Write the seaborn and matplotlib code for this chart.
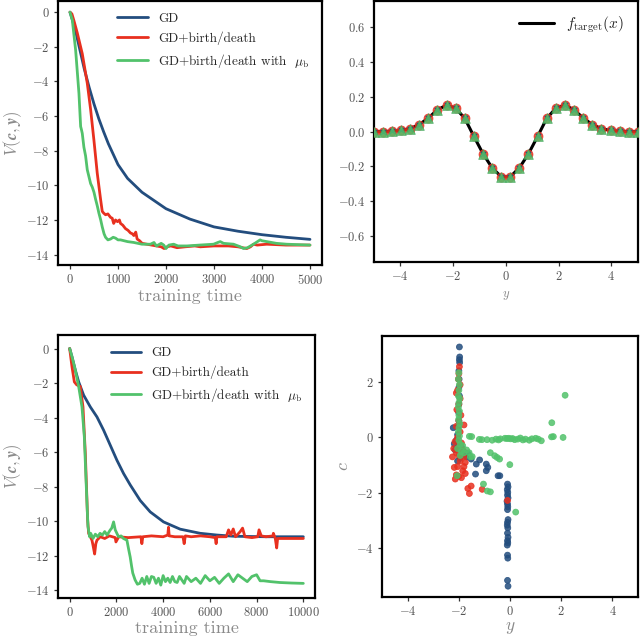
import matplotlib
matplotlib.use("Agg")
import pandas as pd
import seaborn as sns
import matplotlib.pyplot as plt

BLUE = "#234d7e"
RED = "#e8301f"
GREEN = "#52c26b"
TICK_GRAY = "#555555"
LABEL_GRAY = "#8a8a8a"

# ---------------- top-left: training curves, 5000 steps ----------------
gd1_t = [0, 100, 200, 300, 400, 500, 600, 700, 800, 900, 1000, 1200, 1500,
         2000, 2500, 3000, 3500, 4000, 4500, 5000]
gd1_v = [0, -0.9, -2.1, -3.3, -4.35, -5.3, -6.15, -6.9, -7.6, -8.2, -8.8,
         -9.6, -10.4, -11.35, -11.95, -12.4, -12.65, -12.85, -13.0, -13.12]

bd1_t = [0, 40, 83, 152, 256, 360, 429, 499, 568, 637,
         672, 700, 741, 790, 845, 880, 910, 949, 990, 1030,
         1053, 1100, 1156, 1210, 1260, 1300, 1330, 1370, 1399, 1450,
         1503, 1600, 1700, 1800, 1900, 1960, 2022, 2100, 2230, 2400,
         2600, 2715, 3000, 3300, 3500, 3684, 3760, 3823, 3900, 4100,
         4500, 5000]
bd1_v = [0, -0.1, -0.5, -1.2, -2.4, -4.1, -5.6, -7.4, -9.3, -10.8,
         -11.5, -11.6, -11.7, -11.65, -11.85, -11.9, -12.2, -12.0, -12.1, -12.0,
         -12.2, -12.3, -12.5, -12.6, -12.75, -12.8, -12.9, -12.7, -13.1, -13.2,
         -13.35, -13.4, -13.45, -13.5, -13.55, -13.65, -13.55, -13.5, -13.6, -13.55,
         -13.5, -13.55, -13.5, -13.5, -13.55, -13.65, -13.55, -13.4, -13.45, -13.4,
         -13.45, -13.45]

mu1_t = [0, 48, 118, 187, 222, 240, 256, 290, 325, 360,
         395, 430, 464, 500, 533, 570, 602, 640, 672, 710,
         741, 790, 845, 900, 950, 1000, 1053, 1200, 1330, 1500,
         1676, 1750, 1800, 1900, 1953, 2000, 2060, 2160, 2250, 2437,
         2700, 2991, 3080, 3130, 3200, 3407, 3550, 3615, 3700, 3823,
         3961, 4000, 4100, 4300, 4515, 5000]
mu1_v = [0, -0.45, -2.2, -4.7, -6.6, -6.8, -7.0, -7.8, -8.3, -9.1,
         -9.5, -9.9, -10.1, -10.4, -10.8, -11.2, -11.6, -12.0, -12.4, -12.8,
         -13.0, -13.15, -13.1, -13.0, -13.05, -13.15, -13.15, -13.25, -13.3, -13.4,
         -13.4, -13.3, -13.5, -13.35, -13.45, -13.65, -13.45, -13.4, -13.5, -13.5,
         -13.45, -13.4, -13.3, -13.25, -13.35, -13.4, -13.55, -13.65, -13.6, -13.4,
         -13.15, -13.2, -13.25, -13.35, -13.4, -13.45]

# ---------------- bottom-left: training curves, 10000 steps ----------------
gd2_t = [0, 100, 242, 385, 598, 883, 1168, 1453, 1738, 2023, 2308, 2593,
         3020, 3447, 4017, 4729, 5584, 6296, 7009, 8433, 10000]
gd2_v = [0, -0.48, -1.25, -1.93, -2.7, -3.38, -3.96, -4.73, -5.6, -6.47,
         -7.24, -7.9, -8.8, -9.46, -10.04, -10.46, -10.7, -10.8, -10.87,
         -10.9, -10.9]

bd2_t = [0, 100, 200, 300, 456, 570, 670, 769, 812, 883,
         954, 1000, 1068, 1120, 1168, 1310, 1500, 1700, 1950, 1980,
         2100, 2500, 3050, 3090, 3130, 3500, 4000, 4200, 4230, 4260,
         4500, 4850, 4900, 4950, 5200, 5600, 6000, 6230, 6268, 6300,
         6700, 6800, 6900, 7000, 7100, 7300, 7400, 7500, 7800, 8050,
         8105, 8200, 8400, 8700, 8718, 8800, 8860, 8900, 9200, 10000]
bd2_v = [0, -1.06, -1.93, -2.1, -2.2, -3.38, -6.08, -9.94, -10.7, -10.9,
         -11.1, -11.4, -11.9, -11.3, -11.1, -10.9, -11.0, -10.85, -10.95, -11.2,
         -10.9, -10.95, -10.9, -11.3, -10.9, -10.85, -10.9, -10.8, -10.35, -10.85,
         -10.9, -10.9, -11.3, -10.85, -10.9, -10.85, -10.9, -10.95, -11.3, -10.9,
         -10.9, -10.5, -10.8, -10.45, -10.9, -10.6, -10.4, -10.9, -10.95, -10.9,
         -10.5, -10.85, -10.9, -10.85, -10.7, -11.0, -11.55, -11.0, -11.0, -11.0]

mu2_t = [0, 100, 242, 385, 527, 627, 712, 783, 855,
         900, 1000, 1100, 1200, 1300, 1400, 1500, 1600, 1740, 1800,
         1880, 1950, 2090, 2200, 2300, 2450, 2520, 2590, 2650, 2700,
         2800, 2900, 3000, 3100, 3200, 3300, 3400, 3500, 3600, 3700,
         3800, 3900, 4000, 4100, 4200, 4300, 4400, 4500, 4600, 4700,
         4800, 4900, 5000, 5200, 5400, 5600, 5800, 6000, 6200, 6400,
         6600, 6800, 7000, 7200, 7400, 7600, 7800, 8000, 8150, 8300,
         8600, 9000, 9500, 10000]
mu2_v = [0, -0.48, -1.25, -2.2, -3.38, -5.1, -8.0, -10.3, -10.9,
         -10.7, -11.0, -10.75, -10.9, -10.7, -10.8, -10.6, -10.8, -10.5, -10.4,
         -10.04, -10.5, -10.9, -10.85, -11.0, -11.1, -11.6, -12.07, -12.6, -13.0,
         -13.4, -13.65, -13.6, -13.3, -13.65, -13.2, -13.6, -13.2, -13.25, -13.6,
         -13.3, -13.7, -13.15, -13.5, -13.3, -13.55, -13.2, -13.5, -13.55, -13.2,
         -13.4, -13.6, -13.2, -13.5, -13.3, -13.6, -13.15, -13.45, -13.25, -13.6,
         -13.3, -13.05, -13.5, -13.1, -13.3, -13.5, -13.2, -13.1, -13.45, -13.45,
         -13.5, -13.55, -13.58, -13.6]

# ---------------- top-right: target function and learned values ----------------
grid_y = [-5.0, -4.66, -4.31, -3.97, -3.62, -3.28, -2.93, -2.59, -2.24, -1.90,
          -1.55, -1.21, -0.86, -0.52, -0.17, 0.17, 0.52, 0.86, 1.21, 1.55,
          1.90, 2.24, 2.59, 2.93, 3.28, 3.62, 3.97, 4.31, 4.66, 5.0]
f_target = [0.0, 0.0, 0.002, 0.006, 0.017, 0.04, 0.078, 0.125, 0.152, 0.135,
            0.075, -0.027, -0.128, -0.208, -0.26, -0.26, -0.208, -0.128, -0.027, 0.075,
            0.135, 0.152, 0.125, 0.078, 0.04, 0.017, 0.006, 0.002, 0.0, 0.0]

# ---------------- bottom-right: particle positions (y, c) ----------------
gd_y = [-1.98, -1.97, -1.98, -1.97, -2.0, -1.99, -2.0, -1.98, -2.0, -2.01,
        -2.0, -2.02, -2.22, -2.05, -2.1, -2.18, -2.0, -1.9, -2.15, -1.85,
        -1.75, -1.65, -1.52, -1.32, -1.19, -0.93, -0.87, -0.93, -1.35, -0.47,
        -0.4, -1.7, -2.05, -1.95,
        -0.1, -0.08, -0.11, -0.09, -0.1, -0.08, -0.12, -0.1, -0.09, -0.1,
        -0.08, -0.1, -0.11, -0.09, -0.1, -0.08, -0.1, -0.09, -0.11, -0.1,
        -0.09, -0.1, -0.08]
gd_c = [3.26, 2.9, 2.8, 2.7, 2.4, 2.1, 1.8, 1.5, 1.2, 0.9,
        0.6, 0.4, 0.35, 0.1, -0.1, -0.23, -0.3, -0.35, -0.45, -0.5,
        -0.55, -0.59, -0.78, -0.96, -0.81, -0.96, -1.08, -1.2, -1.32, -1.38,
        -1.38, -0.7, -0.85, -0.75,
        -1.68, -1.78, -1.88, -1.98, -2.08, -2.18, -2.3, -2.4, -2.5, -2.6,
        -2.96, -3.06, -3.16, -3.26, -3.45, -3.6, -3.72, -3.8, -3.88, -4.24,
        -4.35, -5.15, -5.36]

bd_y = [-1.98, -2.0, -2.02, -1.95, -2.05, -2.1, -1.95, -2.0, -2.08, -1.92,
        -2.0, -2.1, -1.8, -1.95, -2.05, -2.15, -1.9, -2.0, -2.2, -1.85,
        -2.1, -2.0, -2.25, -1.8, -1.95, -1.75, -2.18, -2.05, -1.85, -1.75,
        -2.14, -2.0, -1.9, -1.52, -1.65, -1.59, -1.09, -0.1, -2.1, -1.8]
bd_c = [2.55, 2.3, 2.1, 1.9, 1.7, 1.6, 1.4, 1.2, 1.0, 0.8,
        0.6, 0.4, 0.45, 0.2, 0.0, -0.15, -0.2, -0.35, -0.4, -0.45,
        -0.55, -0.65, -0.7, -0.7, -0.85, -0.9, -1.08, -1.05, -1.2, -1.3,
        -1.5, -1.4, -1.45, -1.75, -1.84, -2.02, -1.87, -2.27, -1.35, -1.05]

mu_y = [-2.0, -2.02, -1.98, -2.0, -2.02, -1.97, -2.0, -2.02, -1.98, -2.0,
        -2.01, -1.97, -2.0, -2.02, -1.98, -2.0, -1.95, -1.85, -2.05, -1.9,
        -1.8, -1.95, -1.7, -1.6, -1.55, -1.48, -2.07,
        -1.59, -1.5, -1.2, -1.1, -0.9, -0.7, -0.55, -0.45, -0.38, -0.2,
        -0.12, -0.05, 0.02, 0.1, 0.18, 0.3, 0.4, 0.5, 0.6, 0.75,
        0.85, 1.0, 1.1, 1.22, 1.62, 1.69, 2.07,
        -0.77, -0.6, -0.51, -0.41, -0.01, -1.04, -0.89, -0.77, 0.22, 1.63, 2.15]
mu_c = [2.33, 2.1, 1.9, 1.7, 1.5, 1.4, 1.25, 1.1, 0.95, 0.8,
        0.65, 0.5, 0.35, 0.2, 0.05, -0.1, -0.25, -0.3, -0.4, -0.5,
        -0.55, -0.65, -0.45, -0.55, -0.7, -0.69, -1.38,
        0.04, 0.03, -0.07, -0.08, -0.08, -0.1, -0.06, -0.09, -0.05, -0.03,
        -0.04, -0.03, -0.05, -0.04, -0.08, -0.06, -0.02, -0.09, -0.06, -0.1,
        -0.05, -0.03, -0.06, -0.12, 0.02, 0.03, 0.0,
        -0.55, -0.66, -0.72, -0.78, -0.98, -1.68, -1.93, -1.96, -2.69, 0.53, 1.52]

labels = ["GD", "GD+birth/death", r"GD+birth/death with  $\mu_{\rm b}$"]

sns.set_theme(style="white")
plt.rcParams["font.family"] = ["cmr10", "DejaVu Serif"]
plt.rcParams["mathtext.fontset"] = "cm"
plt.rcParams["axes.formatter.use_mathtext"] = True
plt.rcParams["axes.edgecolor"] = "black"
plt.rcParams["axes.linewidth"] = 1.6
plt.rcParams["xtick.labelsize"] = 9
plt.rcParams["ytick.labelsize"] = 9
plt.rcParams["xtick.major.size"] = 3
plt.rcParams["ytick.major.size"] = 3
plt.rcParams["xtick.major.width"] = 0.9
plt.rcParams["ytick.major.width"] = 0.9
plt.rcParams["xtick.color"] = "#333333"
plt.rcParams["ytick.color"] = "#333333"
plt.rcParams["xtick.bottom"] = True
plt.rcParams["ytick.left"] = True
plt.rcParams["xtick.major.pad"] = 3
plt.rcParams["ytick.major.pad"] = 3
plt.rcParams["xtick.labelcolor"] = TICK_GRAY
plt.rcParams["ytick.labelcolor"] = TICK_GRAY
plt.rcParams["axes.labelcolor"] = LABEL_GRAY

fig = plt.figure(figsize=(6.4, 6.41), dpi=100)
ax_tl = fig.add_axes([0.0906, 0.5866, 0.4125, 0.412])
ax_tr = fig.add_axes([0.584, 0.5913, 0.4125, 0.407])
ax_bl = fig.add_axes([0.0906, 0.067, 0.4016, 0.410])
ax_br = fig.add_axes([0.597, 0.0686, 0.400, 0.407])


def training_panel(ax, gd, bd, mu, xlim, ylim, xticks, ylab_x):
    sns.lineplot(x=gd[0], y=gd[1], ax=ax, color=BLUE, lw=2, label=labels[0],
                 estimator=None, sort=False)
    sns.lineplot(x=bd[0], y=bd[1], ax=ax, color=RED, lw=2, label=labels[1],
                 estimator=None, sort=False)
    sns.lineplot(x=mu[0], y=mu[1], ax=ax, color=GREEN, lw=2, label=labels[2],
                 estimator=None, sort=False)
    ax.set_xlim(*xlim)
    ax.set_ylim(*ylim)
    ax.set_xticks(xticks)
    ax.set_yticks([0, -2, -4, -6, -8, -10, -12, -14])
    ax.set_xlabel("training time", fontsize=13, labelpad=1)
    ax.set_ylabel(r"$V(\mathbfit{c},\mathbfit{y})$", fontsize=12)
    ax.yaxis.set_label_coords(ylab_x, 0.5)
    ax.legend(loc="upper right", frameon=False, fontsize=9.5, handlelength=2.3)


training_panel(ax_tl, (gd1_t, gd1_v), (bd1_t, bd1_v), (mu1_t, mu1_v),
               (-250, 5250), (-14.6, 0.65), [0, 1000, 2000, 3000, 4000, 5000], -0.13)
training_panel(ax_bl, (gd2_t, gd2_v), (bd2_t, bd2_v), (mu2_t, mu2_v),
               (-500, 10500), (-14.45, 0.77), [0, 2000, 4000, 6000, 8000, 10000], -0.134)

# target function with the three learned approximations on top
sns.lineplot(x=grid_y, y=f_target, ax=ax_tr, color="black", lw=2.2,
             label=r"$f_{\mathrm{target}}(x)$", estimator=None, sort=False)
sns.scatterplot(x=grid_y, y=f_target, ax=ax_tr, color=RED, marker="o", s=42,
                edgecolor=RED, alpha=0.85, zorder=3)
sns.scatterplot(x=grid_y, y=f_target, ax=ax_tr, color=BLUE, marker="x", s=14,
                linewidth=1, zorder=4)
sns.scatterplot(x=grid_y, y=f_target, ax=ax_tr, color=GREEN, marker="^", s=48,
                edgecolor="#3fa256", alpha=0.85, zorder=5)
ax_tr.set_xlim(-5, 5)
ax_tr.set_ylim(-0.75, 0.75)
ax_tr.set_xticks([-4, -2, 0, 2, 4])
ax_tr.set_yticks([-0.6, -0.4, -0.2, 0.0, 0.2, 0.4, 0.6])
ax_tr.set_xlabel(r"$y$", fontsize=9)
ax_tr.legend(loc="upper right", frameon=False, fontsize=11, handlelength=2.3)

# particle positions
particles = pd.DataFrame({
    "y": gd_y + bd_y + mu_y,
    "c": gd_c + bd_c + mu_c,
    "run": ["gd"] * len(gd_y) + ["bd"] * len(bd_y) + ["mu"] * len(mu_y),
})
sns.scatterplot(data=particles, x="y", y="c", hue="run", ax=ax_br,
                palette={"gd": BLUE, "bd": RED, "mu": GREEN}, s=18,
                alpha=0.85, edgecolor="face", linewidth=0.6, legend=False)
ax_br.set_xlim(-5, 5)
ax_br.set_ylim(-5.75, 3.65)
ax_br.set_xticks([-4, -2, 0, 2, 4])
ax_br.set_yticks([-4, -2, 0, 2])
ax_br.set_xlabel(r"$y$", fontsize=12.5, labelpad=1)
ax_br.set_ylabel(r"$c$", fontsize=13)

fig.savefig("out.png", dpi=100)
